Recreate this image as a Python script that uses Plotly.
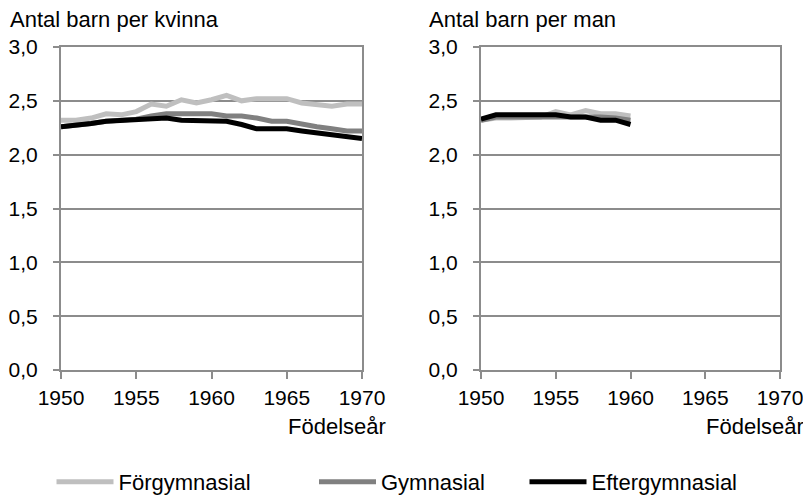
import plotly.graph_objects as go

# The page body has an 8px default margin, so the figure is shrunk by that amount
OFF = 8
W, H = 811 - OFF, 499 - OFF

# ---------------- data ----------------
years_women = list(range(1950, 1971))
forgym_women = [2.32, 2.32, 2.34, 2.38, 2.37, 2.40, 2.47, 2.45, 2.51, 2.48, 2.51,
                2.55, 2.50, 2.52, 2.52, 2.52, 2.48, 2.47, 2.45, 2.47, 2.47]
gym_women = [2.26, 2.27, 2.29, 2.31, 2.32, 2.33, 2.36, 2.38, 2.38, 2.38, 2.38,
             2.36, 2.36, 2.34, 2.31, 2.31, 2.28, 2.26, 2.24, 2.22, 2.22]
eft_women = [2.26, 2.27, 2.29, 2.31, 2.32, 2.32, 2.34, 2.34, 2.32, 2.32, 2.32,
             2.31, 2.28, 2.24, 2.24, 2.24, 2.22, 2.20, 2.18, 2.17, 2.15]

years_men = list(range(1950, 1961))
forgym_men = [2.32, 2.34, 2.34, 2.34, 2.35, 2.40, 2.37, 2.41, 2.38, 2.38, 2.36]
gym_men = [2.32, 2.35, 2.35, 2.35, 2.35, 2.35, 2.36, 2.36, 2.35, 2.34, 2.32]
eft_men = [2.33, 2.37, 2.37, 2.37, 2.37, 2.37, 2.35, 2.35, 2.32, 2.32, 2.28]

series_names = ["Förgymnasial", "Gymnasial", "Eftergymnasial"]
series_colors = ["#BFBFBF", "#808080", "#000000"]

y_ticks = [0, 0.5, 1.0, 1.5, 2.0, 2.5, 3.0]
x_ticks = [1950, 1955, 1960, 1965, 1970]

title_women = "Antal barn per kvinna"
title_men = "Antal barn per man"
x_title = "Födelseår"

FONT = "Liberation Sans, Arial, sans-serif"
GRID = "#8C8C8C"
legend_ids = ["legend", "legend2", "legend3"]
legend_left_px = [51.5, 314, 524.5]   # where each legend box starts (page px)

fig = go.Figure()
women = [forgym_women, gym_women, eft_women]
men = [forgym_men, gym_men, eft_men]
for i, name in enumerate(series_names):
    fig.add_trace(go.Scatter(x=years_women, y=women[i], mode="lines", name=name,
                             line=dict(color=series_colors[i], width=5),
                             xaxis="x", yaxis="y", legend=legend_ids[i], showlegend=True))
for i, name in enumerate(series_names):
    fig.add_trace(go.Scatter(x=years_men, y=men[i], mode="lines", name=name,
                             line=dict(color=series_colors[i], width=5),
                             xaxis="x2", yaxis="y2", showlegend=False))

def px_x(p):
    return (p - OFF) / W

def px_y(p):
    return 1 - (p - OFF) / H

xaxis_common = dict(range=[1950, 1970], tickvals=x_ticks, tickformat="d",
                    showgrid=False, showline=True, linecolor=GRID, linewidth=2,
                    mirror=True, ticks="outside", ticklen=7, tickwidth=2, tickcolor=GRID,
                    zeroline=False, tickfont=dict(size=21, family=FONT, color="black"),
                    ticklabelstandoff=1, fixedrange=True, automargin=False)
yaxis_common = dict(range=[0, 3], tickvals=y_ticks, tickformat=".1f",
                    showgrid=True, gridcolor=GRID, gridwidth=2,
                    showline=True, linecolor=GRID, linewidth=2, mirror=True,
                    ticks="outside", ticklen=6, tickwidth=2, tickcolor=GRID,
                    zeroline=False, tickfont=dict(size=21, family=FONT, color="black"),
                    ticklabelstandoff=11, fixedrange=True, automargin=False,
                    domain=[px_y(370), px_y(47)])

legend_common = dict(orientation="h", y=px_y(482), yanchor="middle", xanchor="left",
                     font=dict(size=22, family=FONT, color="black"),
                     bgcolor="rgba(0,0,0,0)", itemwidth=57)

layout_legends = {}
for i, lid in enumerate(legend_ids):
    layout_legends[lid] = dict(x=px_x(legend_left_px[i]), **legend_common)

fig.update_layout(
    width=W, height=H,
    margin=dict(l=0, r=0, t=0, b=0, autoexpand=False),
    paper_bgcolor="white", plot_bgcolor="white",
    separators=", ",
    font=dict(family=FONT, size=21, color="black"),
    xaxis=dict(domain=[px_x(61), px_x(362)], anchor="y", **xaxis_common),
    yaxis=dict(anchor="x", **yaxis_common),
    xaxis2=dict(domain=[px_x(481), px_x(780)], anchor="y2", **xaxis_common),
    yaxis2=dict(anchor="x2", **yaxis_common),
    annotations=[
        dict(text=title_women, x=px_x(8), y=px_y(19), xref="paper", yref="paper",
             xanchor="left", yanchor="middle", showarrow=False, font=dict(size=22)),
        dict(text=title_men, x=px_x(427), y=px_y(19), xref="paper", yref="paper",
             xanchor="left", yanchor="middle", showarrow=False, font=dict(size=22)),
        dict(text=x_title, x=px_x(388), y=px_y(426), xref="paper", yref="paper",
             xanchor="right", yanchor="middle", showarrow=False, font=dict(size=22)),
        dict(text=x_title, x=px_x(806), y=px_y(426), xref="paper", yref="paper",
             xanchor="right", yanchor="middle", showarrow=False, font=dict(size=22)),
    ],
    **layout_legends,
)

fig.write_html("out.html")
